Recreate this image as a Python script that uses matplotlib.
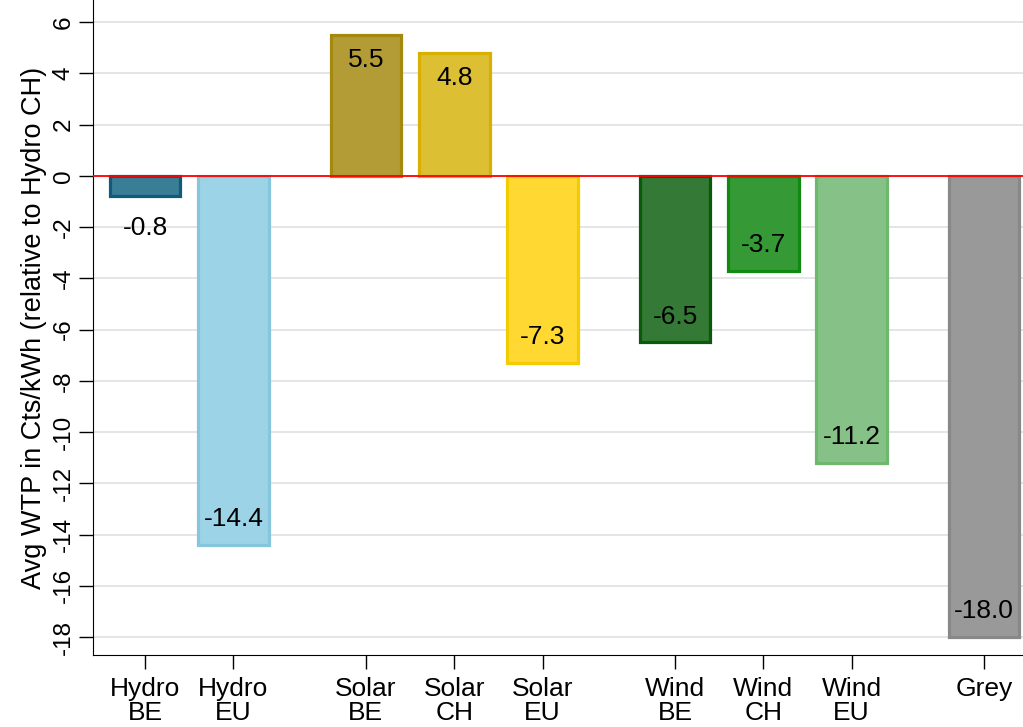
import matplotlib
matplotlib.use('Agg')
import matplotlib.pyplot as plt
import numpy as np

plt.rcParams['font.family'] = ['Liberation Sans', 'DejaVu Sans']

# categories and values
labels = ['Hydro\nBE', 'Hydro\nEU', 'Solar\nBE', 'Solar\nCH', 'Solar\nEU',
          'Wind\nBE', 'Wind\nCH', 'Wind\nEU', 'Grey']
positions = [0, 1, 2.5, 3.5, 4.5, 6, 7, 8, 9.5]
values = [-0.8, -14.4, 5.5, 4.8, -7.3, -6.5, -3.7, -11.2, -18.0]

face_colors = ['#3a7e95', '#9dd3e6', '#b39c36', '#dcbf33', '#ffd931',
               '#347935', '#359a35', '#86c287', '#999999']
edge_colors = ['#0f5b7b', '#86c6dc', '#a38a0f', '#d8b000', '#f2cc00',
               '#0b5a0b', '#118a11', '#6eb86e', '#888888']
yticks = np.arange(-18, 7, 2)

fig = plt.figure(figsize=(10.23, 7.27), dpi=100)
ax = fig.add_axes([93/1023, 72/727, 930/1023, 655/727])

for y in yticks:
    ax.axhline(y, color='#e3e3e3', lw=1.3, zorder=0)
ax.axhline(0, color='red', lw=1.3, zorder=3)

bars = ax.bar(positions, values, width=0.8, color=face_colors,
              edgecolor=edge_colors, linewidth=2.3, zorder=2)

# value labels just inside the bar end, small bars get it outside
for x, v in zip(positions, values):
    if abs(v) < 1:
        ypos = v - 1.25
    else:
        ypos = v - np.sign(v) * 1.0
    ax.text(x, ypos, '{:.1f}'.format(v), ha='center', va='center',
            fontsize=19, zorder=4)

ax.set_xlim(-0.59, 9.94)
ax.set_ylim(-18.7, 6.86)
ax.set_xticks(positions)
ax.set_xticklabels(labels, fontsize=19, linespacing=1.0)
ax.set_yticks(yticks)
ax.set_yticklabels([str(t) for t in yticks], fontsize=17.5, rotation=90, va='center')
ax.set_ylabel('Avg WTP in Cts/kWh (relative to Hydro CH)', fontsize=19.5, labelpad=4)

ax.spines['top'].set_visible(False)
ax.spines['right'].set_visible(False)
ax.tick_params(axis='y', length=10, width=1, pad=3)
ax.tick_params(axis='x', length=10, width=1, pad=6)

fig.savefig('out.png', dpi=100)
